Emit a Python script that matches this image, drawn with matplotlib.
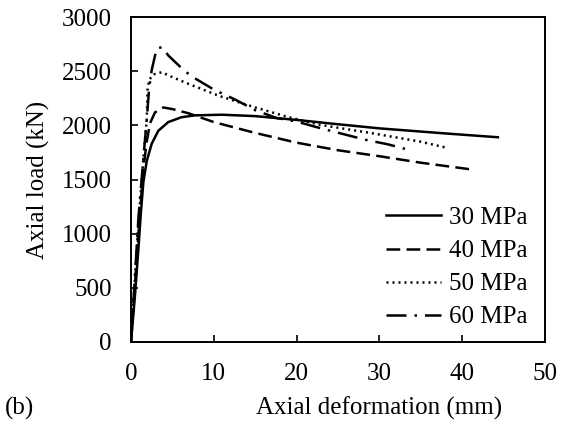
import numpy as np
import matplotlib
matplotlib.use("Agg")
import matplotlib.pyplot as plt

# axial deformation (mm) / axial load (kN)
x30 = [0, 0.5, 0.9, 1.2, 1.5, 1.9, 2.5, 3.3, 4.5, 6.1, 7.7, 11, 15, 20, 25, 30, 38, 44.3]
y30 = [0, 450, 870, 1200, 1480, 1670, 1830, 1950, 2030, 2075, 2092, 2098, 2085, 2050, 2010, 1972, 1925, 1890]

x40 = [0, 0.9, 1.5, 1.9, 2.3, 2.9, 3.9, 5, 7, 10, 15, 20, 25, 30, 35, 40.9]
y40 = [0, 1000, 1600, 1850, 2020, 2120, 2165, 2150, 2110, 2030, 1930, 1840, 1770, 1715, 1655, 1595]

x50 = [0, 0.9, 1.5, 1.9, 2.0, 2.2, 2.7, 3.7, 5, 6.7, 10.7, 14.8, 18.8, 22.8, 28.9, 34.9, 38.3]
y50 = [0, 1100, 1700, 2050, 2330, 2420, 2470, 2490, 2445, 2390, 2270, 2170, 2080, 2005, 1930, 1850, 1790]

x60 = [0, 0.9, 1.5, 1.9, 2.2, 2.5, 3.1, 3.8, 4.5, 6.5, 7.7, 10, 12.6, 15, 17.6, 20, 22.8, 25.6, 28.3, 31, 33.5]
y60 = [0, 1150, 1700, 2050, 2350, 2510, 2710, 2722, 2645, 2500, 2435, 2330, 2237, 2140, 2067, 2035, 1975, 1920, 1867, 1825, 1775]

labels = ['30 MPa', '40 MPa', '50 MPa', '60 MPa']

plt.rcParams['font.family'] = ['Liberation Serif', 'DejaVu Serif']
plt.rcParams['font.size'] = 18

fig = plt.figure(figsize=(5.64, 4.30), dpi=100)
ax = fig.add_axes([131/564, 1 - 342/430, (545 - 131)/564, (342 - 17)/430])

ax.plot(x30, y30, color='black', lw=1.8, linestyle='-', label=labels[0])
ax.plot(x40, y40, color='black', lw=1.8, linestyle=(0, (5.5, 2.5)), label=labels[1])
ax.plot(x50, y50, color='black', lw=1.8, linestyle=(0, (0.8, 1.6)), label=labels[2])
ax.plot(x60, y60, color='black', lw=1.8, linestyle=(0, (8, 3.2, 1, 3.2)), label=labels[3])

ax.set_xlim(0, 50)
ax.set_ylim(0, 3000)
ax.set_xticks(np.arange(0, 51, 10))
ax.set_yticks(np.arange(0, 3001, 500))
ax.tick_params(direction='in', length=5, width=1.2, colors='black')
ax.tick_params(axis='y', pad=14)
ax.tick_params(axis='x', pad=15)
for sp in ax.spines.values():
    sp.set_linewidth(1.4)

ax.set_ylabel('Axial load (kN)', labelpad=8)
fig.text(379/564, 1 - 408/430, 'Axial deformation (mm)', ha='center', va='center')
fig.text(5/564, 1 - 408/430, '(b)', ha='left', va='center')

ax.legend(loc='lower right', frameon=False, handlelength=2.2, handletextpad=0.3,
          labelspacing=0.42, borderaxespad=0.15, bbox_to_anchor=(0.99, 0.0))

fig.savefig('out.png', dpi=100)
